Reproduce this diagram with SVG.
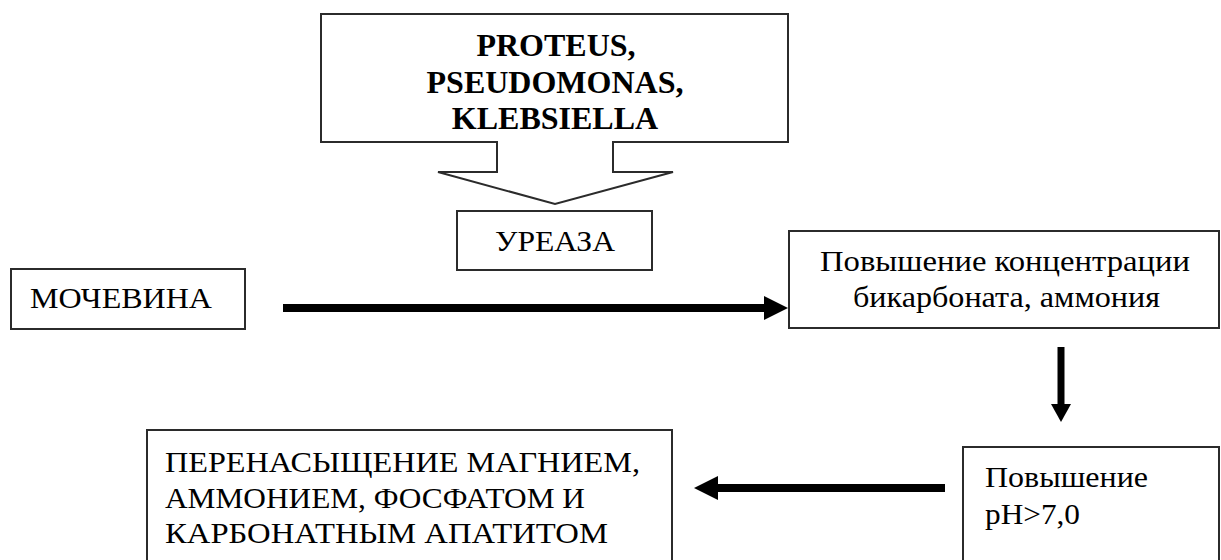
<svg xmlns="http://www.w3.org/2000/svg" width="1221" height="560" viewBox="0 0 1221 560">
  <style>
    .box { fill: #ffffff; stroke: #2b2b2b; stroke-width: 2; }
    .conn { stroke: #000; fill: none; }
  </style>
  <defs>
    <marker id="headH" markerUnits="userSpaceOnUse" markerWidth="24" markerHeight="24" refX="2" refY="12" orient="auto">
      <path d="M0,0 L24,12 L0,24 Z" fill="#000"/>
    </marker>
    <marker id="headV" markerUnits="userSpaceOnUse" markerWidth="18" markerHeight="20" refX="1" refY="10" orient="auto">
      <path d="M0,0 L18,10 L0,20 Z" fill="#000"/>
    </marker>
  </defs>
  <rect width="1221" height="560" fill="#ffffff"/>

  <!-- bacteria callout with downward block arrow -->
  <g id="bacteria">
    <path class="box" d="M321,14 H788 V142 H613 V172 H673 L555,204 L438,172 H497 V142 H321 Z"/>
    <g font-family="Liberation Serif" font-size="32" font-weight="bold" text-anchor="middle" fill="#000">
      <text x="556" y="56">PROTEUS,</text>
      <text x="555" y="93">PSEUDOMONAS,</text>
      <text x="555" y="129">KLEBSIELLA</text>
    </g>
  </g>

  <g id="urease">
    <rect class="box" x="457" y="211" width="195" height="59"/>
    <text x="495" y="251" font-family="Liberation Serif" font-size="30" fill="#000" textLength="120" lengthAdjust="spacingAndGlyphs">УРЕАЗА</text>
  </g>

  <g id="urea">
    <rect class="box" x="11" y="269" width="234" height="60"/>
    <text x="30" y="308" font-family="Liberation Serif" font-size="30" fill="#000" textLength="182" lengthAdjust="spacingAndGlyphs">МОЧЕВИНА</text>
  </g>

  <g id="bicarbonate">
    <rect class="box" x="789" y="231" width="430" height="97"/>
    <g font-family="Liberation Serif" font-size="30" fill="#000">
      <text x="820" y="271" textLength="370" lengthAdjust="spacingAndGlyphs">Повышение концентрации</text>
      <text x="853" y="307" textLength="307" lengthAdjust="spacingAndGlyphs">бикарбоната, аммония</text>
    </g>
  </g>

  <g id="ph">
    <rect class="box" x="963" y="447" width="256" height="120"/>
    <g font-family="Liberation Serif" font-size="30" fill="#000">
      <text x="985" y="487" textLength="163" lengthAdjust="spacingAndGlyphs">Повышение</text>
      <text x="985" y="524" textLength="95" lengthAdjust="spacingAndGlyphs">pH&gt;7,0</text>
    </g>
  </g>

  <g id="supersaturation">
    <rect class="box" x="147" y="430" width="525" height="140"/>
    <g font-family="Liberation Serif" font-size="30" fill="#000">
      <text x="165" y="472" textLength="475" lengthAdjust="spacingAndGlyphs">ПЕРЕНАСЫЩЕНИЕ МАГНИЕМ,</text>
      <text x="165" y="508" textLength="420" lengthAdjust="spacingAndGlyphs">АММОНИЕМ, ФОСФАТОМ И</text>
      <text x="165" y="543" textLength="443" lengthAdjust="spacingAndGlyphs">КАРБОНАТНЫМ АПАТИТОМ</text>
    </g>
  </g>

  <g id="connectors">
    <line class="conn" x1="283" y1="308" x2="766" y2="308" stroke-width="8" marker-end="url(#headH)"/>
    <line class="conn" x1="1061" y1="347" x2="1061" y2="405" stroke-width="7" marker-end="url(#headV)"/>
    <line class="conn" x1="945" y1="488" x2="716" y2="488" stroke-width="8" marker-end="url(#headH)"/>
  </g>
</svg>
